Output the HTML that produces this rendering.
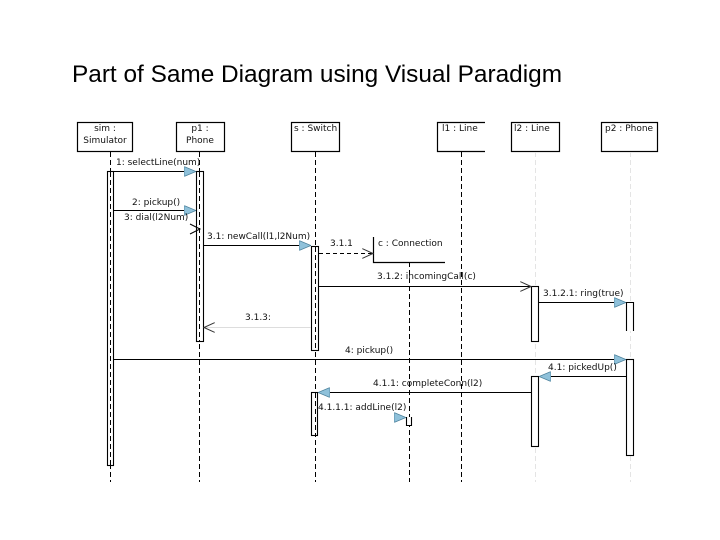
<!DOCTYPE html>
<html><head><meta charset="utf-8"><style>
html,body{margin:0;padding:0;background:#fff;width:720px;height:540px;overflow:hidden}
svg{display:block}
text{font-family:"DejaVu Sans","Liberation Sans",sans-serif;font-size:9px;fill:#111}
</style></head><body>
<svg width="720" height="540" viewBox="0 0 720 540" xmlns="http://www.w3.org/2000/svg">
<defs>
<marker id="f" markerWidth="12" markerHeight="10" refX="12" refY="5" orient="auto" markerUnits="userSpaceOnUse">
<path d="M0,0 L12,5 L0,10 Z" fill="#8fc1da" stroke="#4a7f99" stroke-width="0.8"/></marker>
<marker id="o" markerWidth="12" markerHeight="10" refX="11" refY="5" orient="auto" markerUnits="userSpaceOnUse">
<path d="M0,0 L11,5 L0,10" fill="none" stroke="#333" stroke-width="1"/></marker>
</defs>
<text x="317" y="82" text-anchor="middle" textLength="490" lengthAdjust="spacingAndGlyphs" style="font-family:'Liberation Sans',sans-serif;font-size:24px;fill:#000">Part of Same Diagram using Visual Paradigm</text>

<g fill="#fff" stroke="#000" stroke-width="1.2">
<rect x="77.5" y="122.5" width="55" height="29"/>
<rect x="176.5" y="122.5" width="48" height="29"/>
<rect x="291.5" y="122.5" width="48" height="29"/>
<path d="M485,122.5 H437.5 V151.5 H485"/>
<rect x="511.5" y="122.5" width="48" height="29"/>
<rect x="601.5" y="122.5" width="56" height="29"/>
</g>
<text x="105" y="131" text-anchor="middle">sim :</text>
<text x="105" y="143" text-anchor="middle">Simulator</text>
<text x="200" y="131" text-anchor="middle">p1 :</text>
<text x="200" y="143" text-anchor="middle">Phone</text>
<text x="294" y="131">s : Switch</text>
<text x="442" y="131">l1 : Line</text>
<text x="514" y="131">l2 : Line</text>
<text x="605" y="131">p2 : Phone</text>

<g stroke="#000" stroke-width="1" stroke-dasharray="5,3" fill="none">
<line x1="110.5" y1="152" x2="110.5" y2="482"/>
<line x1="199.5" y1="152" x2="199.5" y2="482"/>
<line x1="315.5" y1="152" x2="315.5" y2="482"/>
<line x1="461.5" y1="152" x2="461.5" y2="482"/>
<line x1="409.5" y1="262" x2="409.5" y2="482"/>
</g>
<g stroke="#e4e4e4" stroke-width="1" stroke-dasharray="5,3">
<line x1="535.5" y1="152" x2="535.5" y2="482"/>
<line x1="630.5" y1="152" x2="630.5" y2="482"/>
</g>

<path d="M373.5,237 V262.5 H445" fill="none" stroke="#000" stroke-width="1.2"/>
<text x="378" y="246">c : Connection</text>

<g fill="#fff" stroke="#000" stroke-width="1.1">
<rect x="107.5" y="171.5" width="6" height="294"/>
<rect x="196.5" y="171.5" width="7" height="170"/>
<rect x="311.5" y="246.5" width="7" height="104"/>
<rect x="531.5" y="286.5" width="7" height="55"/>
<path d="M626.5,331 V302.5 H633.5 V331"/>
<rect x="531.5" y="376.5" width="7" height="70"/>
<rect x="626.5" y="359.5" width="7" height="96"/>
<rect x="311.5" y="392.5" width="6" height="43"/>
<path d="M406.5,417 V425.5 H411.5 V417"/>
</g>
<g stroke="#000" stroke-width="1" stroke-dasharray="5,3">
<line x1="110.5" y1="172" x2="110.5" y2="465"/>
<line x1="199.5" y1="172" x2="199.5" y2="341"/>
<line x1="315.5" y1="247" x2="315.5" y2="350"/>
<line x1="315.5" y1="393" x2="315.5" y2="435"/>
</g>

<g stroke="#000" stroke-width="1" fill="none">
<line x1="114" y1="171.5" x2="196" y2="171.5" marker-end="url(#f)"/>
<line x1="114" y1="210.5" x2="196" y2="210.5" marker-end="url(#f)"/>
<path d="M190,224 L200,229 L190,234"/>
<line x1="204" y1="245.5" x2="311" y2="245.5" marker-end="url(#f)"/>
<line x1="319" y1="253.5" x2="373" y2="253.5" stroke-dasharray="4,3" marker-end="url(#o)"/>
<line x1="319" y1="286.5" x2="531" y2="286.5" marker-end="url(#o)"/>
<line x1="539" y1="302.5" x2="626" y2="302.5" marker-end="url(#f)"/>
<line x1="311" y1="327.5" x2="204" y2="327.5" stroke="#ddd" marker-end="url(#o)"/>
<line x1="114" y1="359.5" x2="626" y2="359.5" marker-end="url(#f)"/>
<line x1="626" y1="376.5" x2="539" y2="376.5" marker-end="url(#f)"/>
<line x1="531" y1="392.5" x2="318" y2="392.5" marker-end="url(#f)"/>
<line x1="390" y1="417.5" x2="406" y2="417.5" stroke="none" marker-end="url(#f)"/>
</g>

<text x="116" y="165">1: selectLine(num)</text>
<text x="132" y="205">2: pickup()</text>
<text x="124" y="220">3: dial(l2Num)</text>
<text x="207" y="239">3.1: newCall(l1,l2Num)</text>
<text x="330" y="246">3.1.1</text>
<text x="377" y="279">3.1.2: incomingCall(c)</text>
<text x="543" y="296">3.1.2.1: ring(true)</text>
<text x="245" y="320">3.1.3:</text>
<text x="345" y="353">4: pickup()</text>
<text x="548" y="370">4.1: pickedUp()</text>
<text x="373" y="386">4.1.1: completeConn(l2)</text>
<text x="318" y="410">4.1.1.1: addLine(l2)</text>
</svg>
</body></html>
